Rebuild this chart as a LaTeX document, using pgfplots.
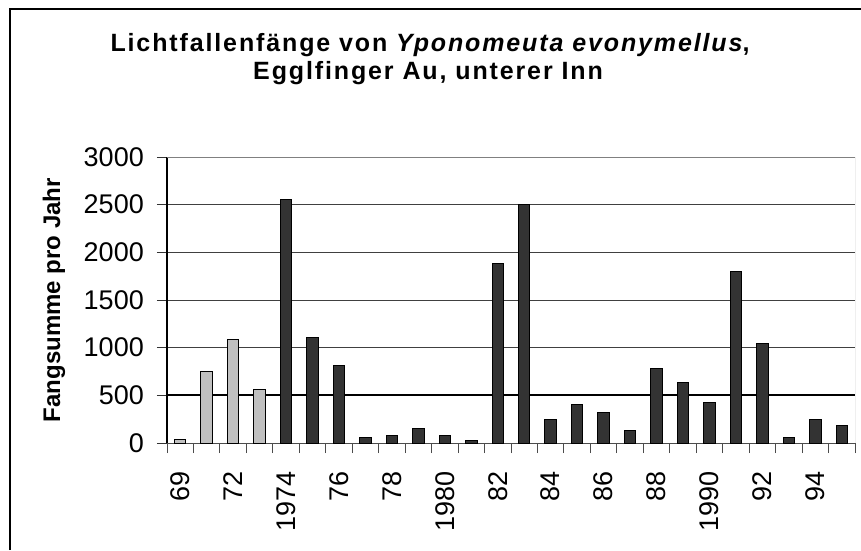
\documentclass[border=0pt]{standalone}
\usepackage{pgfplots}
\pgfplotsset{compat=1.18}
\usepackage{fontspec}
\setmainfont{Liberation Sans}
\newfontfamily\titlefont[LetterSpace=7.5]{Liberation Sans}
\definecolor{lightbar}{HTML}{C0C0C0}
\definecolor{darkbar}{HTML}{333333}
\begin{document}
\begin{tikzpicture}[x=1pt,y=1pt]
\useasboundingbox (0,0) rectangle (861,550);
\fill[white] (0,0) rectangle (861,550);
\draw[line width=2.6pt] (10,0) -- (10,541) -- (861,541);
\node[anchor=base, inner sep=0pt, font=\titlefont\bfseries\fontsize{25}{30}\selectfont] at (430,498) {Lichtfallenfänge von \textit{Yponomeuta evonymellus},};
\node[anchor=base, inner sep=0pt, font=\titlefont\bfseries\fontsize{25}{30}\selectfont] at (428,470) {Egglfinger Au, unterer Inn};
\begin{axis}[
  at={(167pt,107pt)}, anchor=south west,
  scale only axis, width=688pt, height=286pt,
  xmin=-0.5, xmax=25.5, ymin=0, ymax=3000,
  axis x line*=bottom, axis y line*=left,
  x axis line style={black!70, line width=1pt},
  y axis line style={black, line width=1.3pt},
  tick align=outside, major tick length=10pt,
  xtick={-0.5,0.5,...,25.5}, xticklabels={},
  x tick style={black!70, line width=1pt},
  y tick style={black!80, line width=1pt},
  extra x ticks={0,2,...,24},
  extra x tick labels={69,72,1974,76,78,1980,82,84,86,88,1990,92,94},
  extra x tick style={major tick length=0pt, grid=none},
  xticklabel style={rotate=90, anchor=east, inner sep=0pt},
  xticklabel shift=28pt,
  ytick={0,500,...,3000},
  yticklabel style={anchor=east, inner sep=0pt},
  yticklabel shift=13pt,
  tick label style={font=\fontsize{27}{32}\selectfont},
  /pgf/number format/assume math mode=true,
  /pgf/number format/1000 sep={},
  ymajorgrids, grid style={black!75, line width=1pt},
  ylabel={Fangsumme pro Jahr},
  ylabel style={at={(axis description cs:-0.1555,0.5)}, anchor=base, font=\bfseries\fontsize{24}{28}\selectfont},
]
\addplot[black, line width=2pt, sharp plot, mark=none] coordinates {(-0.5,500) (25.5,500)};
\addplot[ybar, bar width=11.5pt, bar shift=0pt, fill=lightbar, draw=black, line width=1pt] coordinates {
(0,40) (1,750) (2,1090) (3,565)};
\addplot[ybar, bar width=11.5pt, bar shift=0pt, fill=darkbar, draw=black, line width=1pt] coordinates {
(4,2550) (5,1110) (6,815) (7,62) (8,83) (9,149) (10,83) (11,28) (12,1880) (13,2505) (14,250) (15,399) (16,319) (17,132) (18,777) (19,632) (20,420) (21,1800) (22,1040) (23,62) (24,250) (25,187)};
\draw[black!50, line width=1pt] (rel axis cs:0,1) -- (rel axis cs:1,1) -- (rel axis cs:1,0);
\end{axis}
\end{tikzpicture}
\end{document}
